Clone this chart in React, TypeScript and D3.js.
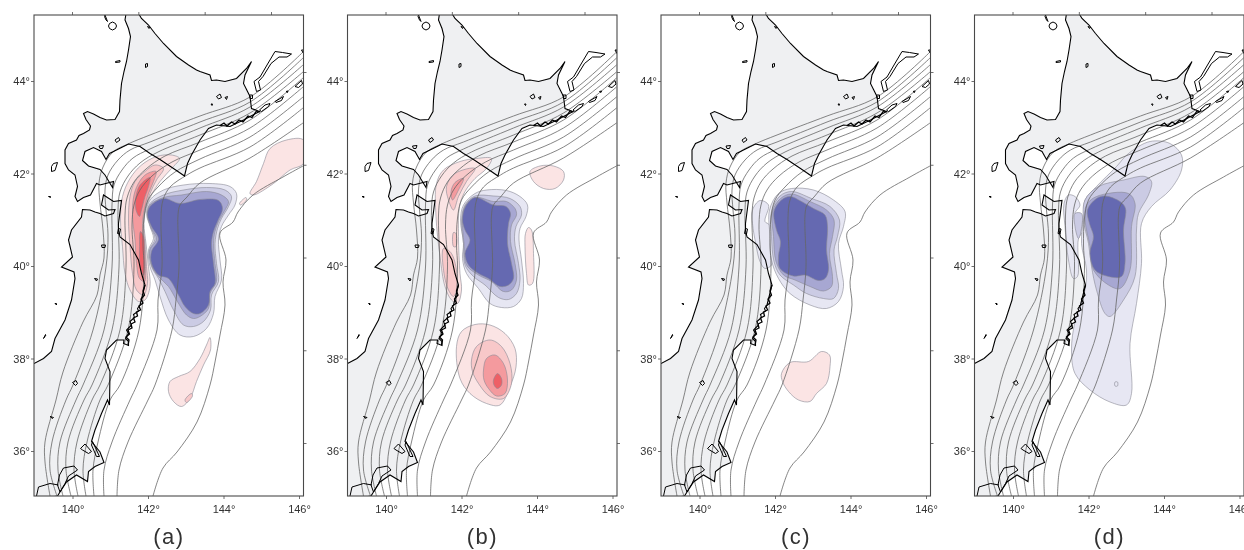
import { useEffect, useRef } from "react";
import * as d3 from "d3";

type Pt = [number, number];

// everything below is digitised in map-plane units, measured from the panel's SW corner
const PANEL_LABELS = ["(a)", "(b)", "(c)", "(d)"];
const LON_TICKS = [140, 142, 144, 146];
const LAT_TICKS = [36, 38, 40, 42, 44];

// depth contours of the plate boundary, shared by all panels
const slab1: Pt[] = [[538,888],[432,798],[332,760],[232,722],[188,704],[158,688],[138,658],[130,626],[132,586],[138,532],[140,476],[132,442],[126,402],[98,348],[58,248],[44,192],[22,108],[22,68],[32,0]];
const slab2: Pt[] = [[538,876],[432,788],[332,748],[232,708],[192,692],[168,672],[148,642],[142,612],[144,572],[148,522],[144,458],[118,332],[78,222],[64,192],[36,108],[32,52],[46,0]];
const slab3: Pt[] = [[538,862],[432,778],[332,736],[232,694],[198,676],[176,652],[160,622],[156,582],[156,458],[140,332],[98,222],[84,192],[52,108],[48,52],[58,0]];
const slab4: Pt[] = [[538,848],[432,766],[332,722],[248,688],[212,666],[188,640],[172,608],[168,572],[170,458],[156,332],[116,222],[100,192],[68,108],[64,52],[74,0]];
const slab5: Pt[] = [[538,836],[432,752],[332,708],[262,680],[224,654],[200,628],[186,596],[182,562],[184,458],[172,332],[132,222],[116,192],[86,108],[80,52],[88,0]];
const slab6: Pt[] = [[538,818],[432,736],[332,692],[276,668],[236,640],[212,612],[200,582],[196,542],[200,458],[188,332],[148,222],[132,192],[106,108],[98,52],[104,0]];
const slab7: Pt[] = [[538,798],[432,718],[332,674],[282,648],[248,618],[228,592],[220,556],[218,502],[220,458],[210,332],[172,222],[152,192],[128,108],[118,52],[120,0]];
const slab8: Pt[] = [[538,776],[432,698],[332,656],[306,642],[272,618],[258,592],[254,556],[256,458],[248,392],[246,332],[206,222],[192,192],[156,108],[140,52],[140,0]];
const slab9: Pt[] = [[538,746],[432,676],[332,626],[306,598],[292,582],[288,562],[290,458],[284,392],[276,332],[242,222],[228,192],[188,108],[170,52],[166,0]];
const trench: Pt[] = [[538,660],[498,638],[438,602],[408,568],[398,548],[372,526],[384,472],[378,428],[382,382],[372,322],[362,268],[352,222],[326,148],[286,88],[258,56],[238,0]];
const slabLines = [slab1, slab2, slab3, slab4, slab5, slab6, slab7, slab8, slab9, trench];

// coastlines
const hokkaido: Pt[] = [[184,965],[182,952],[189,935],[193,919],[189,892],[185,869],[180,849],[175,825],[172,792],[171,769],[162,753],[145,752],[132,757],[119,764],[107,769],[99,765],[104,753],[113,740],[111,732],[99,725],[90,721],[85,712],[69,705],[62,692],[62,665],[69,652],[82,642],[87,619],[82,599],[87,589],[99,597],[113,602],[125,625],[132,622],[159,629],[157,617],[142,642],[132,653],[109,660],[97,671],[102,689],[119,697],[135,689],[144,673],[151,685],[165,692],[189,704],[212,699],[232,685],[252,673],[279,655],[301,640],[307,665],[315,682],[332,712],[349,735],[365,742],[392,739],[419,752],[451,769],[435,775],[432,799],[419,825],[422,842],[435,869],[425,855],[405,835],[382,829],[365,832],[355,831],[352,842],[332,849],[325,852],[309,862],[285,879],[259,905],[242,925],[229,942],[215,955],[209,965]];
const honshu: Pt[] = [[0,265],[19,275],[35,289],[42,315],[62,352],[75,392],[82,435],[80,448],[55,458],[77,478],[69,512],[75,532],[95,558],[97,573],[112,572],[122,568],[132,565],[142,560],[159,565],[162,573],[149,572],[135,582],[139,602],[159,589],[175,591],[169,545],[169,532],[172,518],[192,503],[209,472],[215,445],[222,422],[212,382],[207,375],[209,370],[199,363],[201,357],[192,349],[195,342],[185,332],[189,325],[183,315],[189,309],[189,301],[179,305],[180,312],[165,312],[145,292],[142,275],[152,249],[151,182],[147,192],[135,165],[122,132],[115,109],[132,88],[140,67],[122,59],[109,49],[107,29],[85,42],[65,28],[52,8],[47,0],[-10,-10],[-10,265]];
const kunashiri: Pt[] = [[440,829],[452,838],[466,862],[482,889],[497,887],[515,884],[506,878],[490,878],[474,865],[458,839],[449,829],[453,812],[445,809]];
const islands: Pt[][] = [
  [[157,948],[163,945],[165,940],[163,935],[157,932],[151,935],[149,940],[151,945]],
  [[142,962],[147,949],[144,952],[141,959]],
  [[163,869],[172,871],[172,868],[163,867]],
  [[223,864],[227,865],[227,859],[223,857]],
  [[39,665],[47,667],[42,651],[35,649],[35,659]],
  [[29,599],[33,599],[33,597]],
  [[162,712],[169,717],[172,712],[165,707]],
  [[130,700],[139,701],[137,695],[132,695]],
  [[227,939],[232,937],[230,935]],
  [[77,227],[84,231],[87,225],[83,221]],
  [[42,385],[45,385],[45,382]],
  [[121,435],[127,434],[125,430]],
  [[135,502],[143,502],[142,497],[136,497]],
  [[169,535],[173,534],[171,524],[167,525]],
  [[32,159],[39,157],[37,155]],
  [[19,315],[24,322],[23,323]],
  [[365,799],[372,804],[375,797],[369,794]],
  [[382,797],[387,799],[385,793]],
  [[354,784],[357,784],[356,781]],
  [[451,772],[462,782],[472,785],[469,779],[455,769]],
  [[482,789],[499,799],[495,791],[484,787]],
  [[504,809],[508,810],[507,807]],
  [[522,819],[535,831],[537,824],[529,817]],
  [[535,892],[539,885],[539,892]],
  [[431,802],[437,802],[437,795],[432,795]],
  [[93,95],[102,104],[115,89],[109,85],[97,92]],
  [[117,109],[131,79],[125,79],[115,102]],
  [[51,42],[59,56],[80,60],[87,52],[69,40],[62,25],[52,8],[47,22]],
];
const sagamiLine: Pt[] = [[5,0],[9,18],[32,25],[49,22]];
const sanrikuRough: Pt[] = [[222,422],[218,410],[221,402],[214,394],[218,386],[210,380],[213,372],[205,368],[207,360],[199,356],[202,348],[194,344],[196,336],[188,332],[191,324],[184,318],[190,312],[188,302]];
const nemuroRough: Pt[] = [[372,741],[380,746],[386,740],[395,748],[402,744],[410,752],[418,748],[428,760],[436,757],[445,770],[452,768]];

// panel (a) slip patches
const aBlue1: Pt[] = [[232,592],[259,612],[299,622],[352,625],[392,619],[405,605],[402,582],[389,562],[375,539],[369,512],[372,472],[375,432],[362,399],[359,365],[345,335],[319,319],[292,322],[269,352],[252,399],[242,432],[232,459],[229,492],[239,515],[232,539],[225,565]];
const aBlue2: Pt[] = [[232,585],[259,602],[299,612],[345,617],[382,612],[395,599],[389,579],[375,555],[367,535],[362,505],[365,465],[369,429],[355,402],[353,372],[339,349],[319,339],[299,342],[279,372],[262,409],[249,435],[235,459],[231,492],[242,514],[233,539],[227,565]];
const aBlue3: Pt[] = [[232,582],[259,597],[295,602],[345,609],[375,602],[389,589],[382,572],[369,549],[362,529],[359,505],[362,465],[365,429],[352,405],[349,375],[332,359],[319,355],[305,362],[285,392],[269,419],[249,439],[235,462],[232,492],[245,514],[233,539],[227,565]];
const aBlue4: Pt[] = [[232,579],[259,595],[292,585],[332,593],[369,591],[377,575],[367,549],[359,529],[355,505],[359,465],[362,425],[352,409],[349,382],[332,365],[319,365],[302,379],[289,402],[269,435],[249,442],[235,465],[235,489],[249,514],[235,539],[227,562]];
const aRed1: Pt[] = [[291,675],[275,655],[252,629],[235,602],[225,579],[220,545],[224,505],[229,459],[232,419],[222,392],[209,389],[192,412],[182,445],[177,499],[173,552],[177,599],[192,635],[215,662],[245,679],[275,682]];
const aRed2: Pt[] = [[259,655],[245,632],[232,605],[224,579],[219,545],[222,505],[225,459],[227,425],[219,402],[205,412],[197,445],[192,499],[189,552],[192,599],[202,629],[222,649],[242,662]];
const aRed3: Pt[] = [[244,649],[239,629],[229,605],[222,579],[217,545],[220,505],[223,459],[221,429],[211,435],[205,465],[202,512],[197,559],[200,602],[211,629],[225,644]];
const aRed4a: Pt[] = [[232,637],[229,619],[222,599],[215,572],[211,559],[204,572],[204,599],[212,622]];
const aRed4b: Pt[] = [[213,529],[219,519],[221,485],[219,442],[213,455],[211,499]];
const aNorthEast: Pt[] = [[539,712],[505,712],[472,695],[459,665],[445,629],[432,605],[439,602],[479,625],[512,652],[539,665]];
const aSpeck: Pt[] = [[411,585],[424,597],[425,592],[413,582]];
const aSouth: Pt[] = [[352,317],[353,292],[339,262],[325,229],[312,195],[295,179],[279,189],[269,209],[272,229],[289,239],[312,249],[332,275],[345,302]];
const aSouthCore: Pt[] = [[302,192],[315,205],[317,200],[305,187]];

// panel (b)
const bBlue1: Pt[] = [[232,582],[255,605],[278,612],[318,611],[345,599],[360,582],[357,559],[345,535],[343,512],[348,472],[352,425],[348,395],[332,379],[308,377],[285,385],[262,415],[238,445],[230,475],[232,505],[226,552]];
const bBlue2: Pt[] = [[235,582],[255,600],[292,600],[325,595],[345,579],[348,562],[337,539],[334,512],[342,465],[345,432],[338,405],[322,393],[302,397],[275,422],[252,439],[235,462],[232,505],[228,552]];
const bBlue3: Pt[] = [[235,579],[255,597],[292,589],[318,589],[335,575],[338,562],[328,542],[326,509],[335,465],[338,432],[328,412],[312,409],[288,429],[262,442],[238,462],[233,505],[230,552]];
const bBlue4: Pt[] = [[236,579],[255,597],[292,582],[317,579],[326,565],[322,545],[320,505],[328,465],[332,435],[322,422],[305,419],[282,435],[262,445],[242,462],[235,485],[245,512],[235,532],[230,552]];
const bRed1: Pt[] = [[288,675],[278,655],[255,635],[235,609],[224,579],[222,519],[225,445],[228,412],[220,385],[208,392],[195,419],[185,479],[177,559],[178,625],[192,652],[225,669],[258,675]];
const bRed2a: Pt[] = [[255,655],[238,629],[222,599],[212,572],[202,592],[198,619],[215,645]];
const bRed2b: Pt[] = [[192,495],[208,485],[220,425],[212,399],[202,412],[193,445]];
const bRed2c: Pt[] = [[212,527],[217,525],[217,499],[212,499]];
const bRed3: Pt[] = [[232,635],[222,612],[210,592],[207,609],[215,627]];
const bNorthEast: Pt[] = [[365,649],[385,660],[412,660],[432,649],[432,632],[415,615],[392,615],[372,629]];
const bSliver: Pt[] = [[356,525],[362,537],[368,532],[372,485],[370,425],[362,422],[358,445],[355,499]];
const bSouth1: Pt[] = [[218,299],[228,329],[255,343],[285,342],[315,325],[335,295],[337,258],[325,219],[305,182],[278,185],[245,205],[225,235]];
const bSouth2: Pt[] = [[248,272],[258,299],[285,312],[308,299],[325,265],[328,225],[312,195],[285,199],[262,225],[250,249]];
const bSouth3: Pt[] = [[272,252],[278,275],[295,282],[312,265],[320,232],[315,205],[298,200],[282,215],[273,232]];
const bSouth4: Pt[] = [[292,232],[300,245],[308,235],[308,222],[300,215],[293,222]];

// panel (c)
const cBlue1: Pt[] = [[217,572],[235,605],[261,615],[305,612],[345,592],[368,569],[365,539],[355,505],[361,452],[365,419],[355,389],[331,375],[298,382],[258,405],[235,435],[221,472],[218,519]];
const cBlue2: Pt[] = [[221,569],[238,600],[261,609],[301,595],[338,579],[357,552],[353,519],[346,492],[351,445],[355,415],[345,395],[325,395],[291,405],[265,422],[238,442],[226,469],[221,519]];
const cBlue3: Pt[] = [[223,569],[239,595],[261,604],[298,589],[331,572],[346,552],[343,519],[337,485],[343,439],[341,419],[325,410],[298,419],[268,432],[245,442],[230,469],[225,519]];
const cBlue4: Pt[] = [[226,569],[241,592],[258,599],[281,589],[305,575],[328,562],[333,539],[331,492],[335,452],[328,435],[315,431],[288,442],[265,440],[238,455],[235,479],[239,509],[231,532]];
const cCoastal: Pt[] = [[198,591],[215,582],[208,549],[217,542],[219,492],[221,462],[208,455],[198,469],[190,502],[183,545],[183,572]];
const cSouth: Pt[] = [[241,245],[258,267],[295,269],[321,289],[337,282],[338,259],[331,225],[311,205],[298,189],[275,192],[255,209],[243,229]];

// panel (d)
const dBlue1: Pt[] = [[218,559],[221,592],[244,619],[284,659],[308,685],[351,709],[391,705],[414,682],[414,652],[391,612],[354,579],[334,545],[334,465],[324,385],[311,305],[314,205],[304,182],[271,188],[231,212],[201,245],[194,292],[201,349],[221,412],[224,452],[214,505]];
const dCoastal: Pt[] = [[188,602],[201,599],[211,582],[201,565],[211,559],[218,532],[208,515],[206,439],[198,435],[188,472],[181,539],[179,585]];
const dCoastalCore: Pt[] = [[201,565],[214,565],[214,535],[208,515],[201,539]];
const dBlue2: Pt[] = [[221,592],[248,619],[298,632],[341,639],[354,629],[348,602],[328,565],[324,532],[321,439],[298,392],[271,359],[261,365],[244,412],[234,459],[228,505],[218,552]];
const dBlue3: Pt[] = [[224,582],[244,599],[308,605],[321,585],[314,539],[311,452],[291,415],[268,422],[238,452],[231,499],[221,552]];
const dBlue4: Pt[] = [[226,572],[244,595],[261,600],[291,589],[302,575],[298,532],[301,465],[294,439],[268,439],[241,452],[231,485],[238,519],[230,545]];
const dSpeck: Pt[] = [[281,228],[286,228],[286,220],[281,220]];

const RED = ["#fbe4e4", "#f8c8c9", "#f49a9e", "#ee5f66"];
const BLUE = ["#e7e7f3", "#cbcbe4", "#a7a7d2", "#6569b1"];

// colour ramp + ring, drawn back to front
const panelPatches: [string, Pt[]][][] = [
  [
    [RED[0], aRed1], [RED[1], aRed2], [RED[2], aRed3], [RED[3], aRed4a], [RED[3], aRed4b],
    [RED[0], aNorthEast], [RED[0], aSpeck], [RED[0], aSouth], [RED[1], aSouthCore],
    [BLUE[0], aBlue1], [BLUE[1], aBlue2], [BLUE[2], aBlue3], [BLUE[3], aBlue4],
  ],
  [
    [RED[0], bRed1], [RED[1], bRed2a], [RED[1], bRed2b], [RED[1], bRed2c], [RED[2], bRed3],
    [RED[0], bNorthEast], [RED[0], bSliver],
    [RED[0], bSouth1], [RED[1], bSouth2], [RED[2], bSouth3], [RED[3], bSouth4],
    [BLUE[0], bBlue1], [BLUE[1], bBlue2], [BLUE[2], bBlue3], [BLUE[3], bBlue4],
  ],
  [
    [BLUE[0], cCoastal], [RED[0], cSouth],
    [BLUE[0], cBlue1], [BLUE[1], cBlue2], [BLUE[2], cBlue3], [BLUE[3], cBlue4],
  ],
  [
    [BLUE[0], dCoastal], [BLUE[1], dCoastalCore],
    [BLUE[0], dBlue1], [BLUE[0], dSpeck], [BLUE[1], dBlue2], [BLUE[2], dBlue3], [BLUE[3], dBlue4],
  ],
];

const WIDTH = 1244;
const HEIGHT = 550;
const PANEL_W = 269.5;
const PANEL_H = 481;
const PANEL_TOP = 15;
const PANEL_LEFT = [34, 347.5, 661, 974.5];

function App() {
  const ref = useRef<SVGSVGElement>(null);

  useEffect(() => {
    const svg = d3.select(ref.current);
    svg.selectAll("*").remove();

    const xMap = d3.scaleLinear().domain([0, 539]).range([0, PANEL_W]);
    const yMap = d3.scaleLinear().domain([0, 962]).range([PANEL_H, 0]);

    // meridians converge to the north and parallels tilt, so each side has its own tick scale
    const lonBottom = d3.scaleLinear().domain([140, 146]).range([38.5, 265]);
    const lonTop = d3.scaleLinear().domain([140, 146]).range([38, 237]);
    const latLeft = d3.scaleLinear().domain([36, 44]).range([436, 66]);
    const latRight = d3.scaleLinear().domain([36, 44]).range([428, 57]);

    const smooth = d3.line<Pt>().x((d) => xMap(d[0])).y((d) => yMap(d[1])).curve(d3.curveCatmullRomClosed.alpha(0.5));
    const smoothOpen = d3.line<Pt>().x((d) => xMap(d[0])).y((d) => yMap(d[1])).curve(d3.curveCatmullRom.alpha(0.5));
    const jagged = d3.line<Pt>().x((d) => xMap(d[0])).y((d) => yMap(d[1])).curve(d3.curveLinearClosed);
    const jaggedOpen = d3.line<Pt>().x((d) => xMap(d[0])).y((d) => yMap(d[1]));

    const defs = svg.append("defs");
    defs.append("filter").attr("id", "soft").append("feGaussianBlur").attr("stdDeviation", 0.4);

    const root = svg.append("g").attr("filter", "url(#soft)");
    root.append("rect").attr("width", WIDTH).attr("height", HEIGHT).attr("fill", "#fff");

    PANEL_LEFT.forEach((left, i) => {
      defs.append("clipPath").attr("id", `frame-${i}`)
        .append("rect").attr("width", PANEL_W).attr("height", PANEL_H);

      const panel = root.append("g").attr("transform", `translate(${left},${PANEL_TOP})`);
      const map = panel.append("g").attr("clip-path", `url(#frame-${i})`);

      [hokkaido, honshu].forEach((land) => {
        map.append("path").attr("d", jagged(land)).attr("fill", "#eff0f2");
      });

      panelPatches[i].forEach(([fill, ring]) => {
        map.append("path").attr("d", smooth(ring)).attr("fill", fill)
          .attr("stroke", "#8a8a96").attr("stroke-width", 0.6);
      });

      slabLines.forEach((line) => {
        map.append("path").attr("d", smoothOpen(line)).attr("fill", "none")
          .attr("stroke", "#666").attr("stroke-width", 0.8);
      });

      [hokkaido, honshu].forEach((land) => {
        map.append("path").attr("d", jagged(land)).attr("fill", "none")
          .attr("stroke", "#000").attr("stroke-width", 1.1);
      });
      map.append("path").attr("d", jagged(kunashiri)).attr("fill", "#fff")
        .attr("stroke", "#000").attr("stroke-width", 1);
      islands.forEach((isle) => {
        map.append("path").attr("d", jagged(isle)).attr("fill", "none")
          .attr("stroke", "#000").attr("stroke-width", 1);
      });
      map.append("path").attr("d", jaggedOpen(sagamiLine)).attr("fill", "none")
        .attr("stroke", "#000").attr("stroke-width", 1);
      [sanrikuRough, nemuroRough].forEach((rough) => {
        map.append("path").attr("d", jaggedOpen(rough)).attr("fill", "none")
          .attr("stroke", "#000").attr("stroke-width", 1.3);
      });

      panel.append("rect").attr("width", PANEL_W).attr("height", PANEL_H)
        .attr("fill", "none").attr("stroke", "#4a4a4a").attr("stroke-width", 1.1);

      const deg = (d: d3.NumberValue) => `${d}°`;
      const styleAxis = (g: any) => {
        g.select(".domain").remove();
        g.selectAll("line").attr("stroke", "#4a4a4a").attr("stroke-width", 0.8);
        g.selectAll("text").attr("fill", "#333")
          .style("font-family", "'Liberation Sans', Arial, sans-serif").style("font-size", "11px");
      };

      panel.append("g").attr("transform", `translate(0,${PANEL_H})`)
        .call(d3.axisBottom(lonBottom).tickValues(LON_TICKS).tickSize(3).tickPadding(6).tickFormat(deg))
        .call(styleAxis);
      panel.append("g")
        .call(d3.axisTop(lonTop).tickValues(LON_TICKS).tickSize(3).tickFormat(() => ""))
        .call(styleAxis);
      panel.append("g")
        .call(d3.axisLeft(latLeft).tickValues(LAT_TICKS).tickSize(3).tickPadding(1).tickFormat(deg))
        .call(styleAxis);
      panel.append("g").attr("transform", `translate(${PANEL_W},0)`)
        .call(d3.axisRight(latRight).tickValues(LAT_TICKS).tickSize(3).tickFormat(() => ""))
        .call(styleAxis);

      panel.append("text").attr("x", 135).attr("y", 529)
        .attr("text-anchor", "middle").attr("fill", "#333")
        .style("font-family", "'Liberation Sans', Arial, sans-serif")
        .style("font-size", "22px").style("letter-spacing", "1.5px")
        .text(PANEL_LABELS[i]);
    });
  }, []);

  return (
    <svg
      ref={ref}
      width={WIDTH}
      height={HEIGHT}
      style={{ position: "absolute", left: 0, top: 0, display: "block" }}
    />
  );
}

export default App;
